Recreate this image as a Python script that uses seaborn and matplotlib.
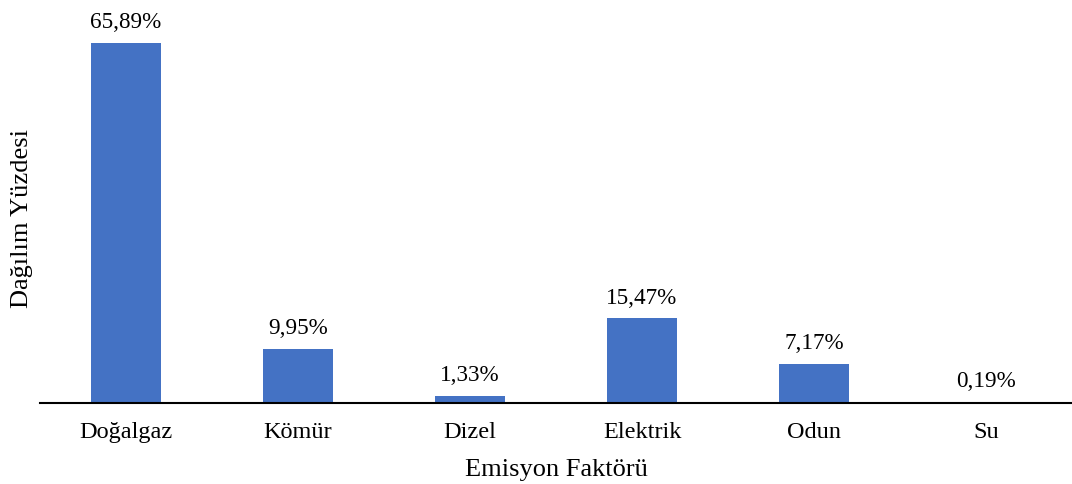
import matplotlib.pyplot as plt
import pandas as pd
import seaborn as sns

# Data
categories = ["Doğalgaz", "Kömür", "Dizel", "Elektrik", "Odun", "Su"]
values = [65.89, 9.95, 1.33, 15.47, 7.17, 0.19]
labels = ["65,89%", "9,95%", "1,33%", "15,47%", "7,17%", "0,19%"]

df = pd.DataFrame({"kategori": categories, "yuzde": values})

sns.set_style("white")
plt.rcParams["font.family"] = ["Liberation Serif", "DejaVu Serif"]
plt.rcParams["text.color"] = "black"
plt.rcParams["axes.labelcolor"] = "black"
plt.rcParams["xtick.color"] = "black"

fig = plt.figure(figsize=(10.72, 4.84), dpi=100)
ax = fig.add_axes([40 / 1072, 81 / 484, 1 - 40 / 1072, (403 - 9.6) / 484])

sns.barplot(data=df, x="kategori", y="yuzde", color="#4472C4", width=0.41,
            saturation=1, linewidth=0, ax=ax)

for p, lab in zip(ax.patches, labels):
    ax.annotate(lab, (p.get_x() + p.get_width() / 2, p.get_height()),
                xytext=(0, 7), textcoords="offset points",
                ha="center", va="bottom", fontsize=16.7)

ax.set_xlim(-0.5, 5.5)
ax.set_ylim(0, 72)
ax.set_yticks([])
ax.tick_params(axis="x", length=0, labelsize=17.5, pad=14)
ax.set_xlabel("Emisyon Faktörü", fontsize=19, labelpad=11)
ax.set_ylabel("Dağılım Yüzdesi", fontsize=19)
ax.yaxis.set_label_coords(-0.0068, 0.47)

for s in ["top", "right", "left"]:
    ax.spines[s].set_visible(False)
ax.spines["bottom"].set_color("black")
ax.spines["bottom"].set_linewidth(1.5)

fig.savefig("out.png", dpi=100)
